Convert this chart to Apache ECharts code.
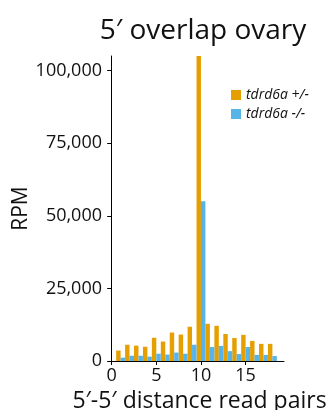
<!DOCTYPE html>
<html>
<head>
<meta charset="utf-8">
<script src="https://cdn.jsdelivr.net/npm/echarts@6/dist/echarts.min.js"></script>
<style>
  html, body { margin: 0; padding: 0; background: #fff; }
  #chart { width: 332px; height: 410px; }
</style>
</head>
<body>
<div id="chart"></div>
<script>
// 5'-5' distance between read pairs, ovary small RNA libraries (RPM)
const distances = [1, 2, 3, 4, 5, 6, 7, 8, 9, 10, 11, 12, 13, 14, 15, 16, 17, 18];
const hetRPM = [3600, 5600, 5300, 4900, 8000, 6700, 9800, 9100, 11800, 105000, 12800, 12100, 9300, 7900, 9000, 6900, 5900, 5900];
const mutRPM = [1150, 1800, 1800, 1500, 2500, 2200, 2900, 2500, 5600, 55000, 4800, 5200, 3400, 2400, 4800, 2100, 2100, 1700];
const xTicks = [0, 5, 10, 15];
const yTicks = [0, 25000, 50000, 75000, 100000];
const seriesNames = ['tdrd6a +/-', 'tdrd6a -/-'];

const FONT = '"Open Sans", "Noto Sans", sans-serif';
const INK = '#111111';

const chart = echarts.init(document.getElementById('chart'), null, { renderer: 'canvas' });

chart.setOption({
  animation: false,
  backgroundColor: '#ffffff',
  title: {
    text: '5\u2032 overlap ovary',
    left: 198,
    top: 12,
    textAlign: 'center',
    textStyle: { fontFamily: FONT, fontSize: 28, fontWeight: 'normal', color: INK }
  },
  legend: {
    orient: 'vertical',
    left: 226,
    top: 83,
    icon: 'rect',
    itemWidth: 10,
    itemHeight: 10,
    itemGap: 5,
    data: seriesNames,
    textStyle: { fontFamily: FONT, fontSize: 14, fontStyle: 'italic', color: INK }
  },
  grid: { left: 109, right: 48, top: 56, bottom: 49, containLabel: false, outerBoundsMode: 'none' },
  xAxis: {
    type: 'value',
    min: -0.3,
    max: 19.3,
    name: '5\u2032-5\u2032 distance read pairs',
    nameLocation: 'middle',
    nameGap: 26,
    nameTextStyle: { fontFamily: FONT, fontSize: 23, color: INK, padding: [0, 0, 0, 6] },
    splitLine: { show: false },
    axisLine: { show: true, lineStyle: { color: '#000', width: 1 } },
    axisTick: { show: true, length: 4, customValues: xTicks, lineStyle: { color: '#000' } },
    axisLabel: { customValues: xTicks, margin: 6, fontFamily: FONT, fontSize: 18, color: INK }
  },
  yAxis: {
    type: 'value',
    min: 0,
    max: 105000,
    name: 'RPM',
    nameLocation: 'middle',
    nameRotate: 90,
    nameGap: 77,
    nameMoveOverlap: false,
    nameTextStyle: { fontFamily: FONT, fontSize: 21, color: INK },
    splitLine: { show: false },
    axisLine: { show: true, lineStyle: { color: '#000', width: 1 } },
    axisTick: { show: true, length: 4.5, customValues: yTicks, lineStyle: { color: '#000' } },
    axisLabel: {
      customValues: yTicks,
      margin: 7,
      fontFamily: FONT,
      fontSize: 18,
      color: INK,
      formatter: v => v.toLocaleString('en-US')
    }
  },
  series: [
    {
      name: seriesNames[0],
      type: 'bar',
      barWidth: 4.45,
      barGap: '0%',
      itemStyle: { color: '#E69F00' },
      data: distances.map((d, i) => [d, hetRPM[i]])
    },
    {
      name: seriesNames[1],
      type: 'bar',
      barWidth: 4.45,
      barGap: '0%',
      itemStyle: { color: '#56B4E9' },
      data: distances.map((d, i) => [d, mutRPM[i]])
    }
  ]
});
</script>
</body>
</html>
